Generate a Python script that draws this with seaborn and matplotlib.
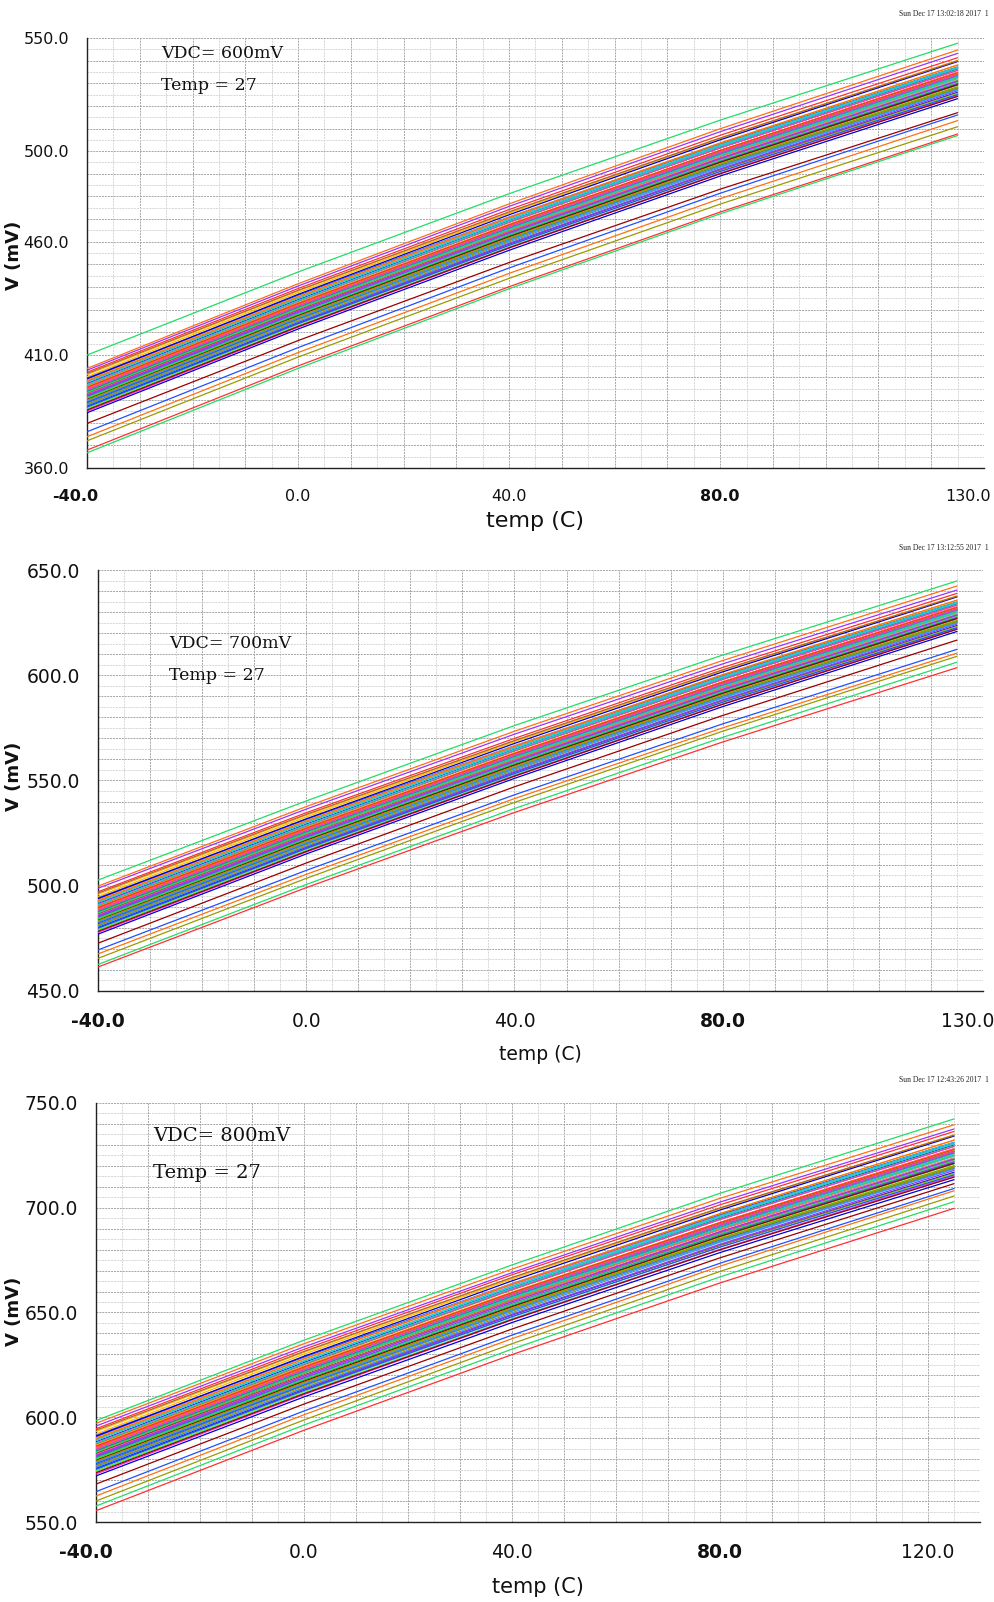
import numpy as np
import pandas as pd
import matplotlib
matplotlib.use("Agg")
import matplotlib.pyplot as plt
import matplotlib.transforms as mtransforms
import seaborn as sns
from matplotlib.ticker import FixedLocator, MultipleLocator

# Sample temperatures (C) at which every Monte Carlo run is tabulated
temps = [-40.0, 0.0, 40.0, 80.0, 125.0]

# ---- VDC = 600 mV : output voltage (mV) per run ----
v600_m40 = [409.9, 395.2, 388.6, 404.0, 403.2, 399.1, 392.4, 386.0, 379.7, 397.3,
            393.8, 390.1, 401.2, 394.6, 389.4, 396.5, 366.7, 367.9, 376.0, 373.8,
            391.7, 385.1, 372.0, 398.2, 393.1, 387.3, 395.9, 392.0, 400.3, 390.8,
            394.1, 388.0, 396.9, 391.2, 399.7, 393.5, 386.8, 395.5, 389.9, 397.8,
            392.8, 384.4, 394.9, 390.5, 398.8, 391.5, 387.7, 396.2, 393.3, 402.3,
            389.1, 395.0, 391.9, 397.0, 388.3, 394.3, 390.3, 399.4, 392.6, 386.4,
            396.0, 393.9, 389.6, 401.7, 391.0, 395.7, 387.0, 398.5, 392.2, 394.5,
            390.0, 396.7, 385.6]
v600_p0 = [446.6, 432.1, 425.7, 441.4, 440.4, 435.9, 429.6, 422.8, 416.3, 434.3,
           430.5, 427.1, 438.2, 431.7, 426.2, 433.6, 404.0, 405.1, 413.2, 411.0,
           428.4, 422.2, 409.0, 435.1, 430.4, 424.2, 432.6, 429.0, 437.5, 427.7,
           431.1, 424.7, 433.9, 428.4, 436.3, 430.4, 424.0, 432.5, 426.7, 434.9,
           429.6, 421.4, 432.1, 427.2, 435.8, 428.4, 424.8, 432.9, 430.4, 439.3,
           426.0, 432.2, 428.7, 433.9, 425.4, 431.0, 427.3, 436.7, 429.4, 423.4,
           432.9, 431.1, 426.3, 438.5, 428.1, 432.7, 423.8, 435.6, 429.2, 431.5,
           426.9, 433.9, 422.5]
v600_p40 = [481.2, 466.9, 460.7, 476.7, 475.6, 470.5, 464.7, 457.6, 450.8, 469.2,
            465.0, 462.0, 473.0, 466.8, 460.9, 468.5, 439.2, 440.1, 448.4, 446.0,
            463.1, 457.2, 443.8, 469.8, 465.5, 459.0, 467.2, 464.0, 472.6, 462.5,
            466.0, 459.3, 468.7, 463.4, 470.9, 465.2, 459.1, 467.4, 461.4, 469.9,
            464.2, 456.2, 467.3, 461.9, 470.8, 463.1, 459.9, 467.5, 465.3, 474.2,
            460.8, 467.3, 463.4, 468.7, 460.4, 465.6, 462.2, 471.9, 464.2, 458.3,
            467.7, 466.1, 460.8, 473.2, 463.1, 467.5, 458.4, 470.7, 464.0, 466.5,
            461.6, 469.1, 457.3]
v600_p80 = [513.7, 499.6, 493.6, 509.9, 508.6, 503.1, 497.8, 490.2, 483.2, 502.1,
            497.5, 494.8, 505.8, 499.7, 493.4, 501.4, 472.3, 473.1, 481.4, 479.0,
            495.6, 490.2, 476.6, 502.5, 498.6, 491.8, 499.7, 496.8, 505.6, 495.1,
            498.8, 491.8, 501.5, 496.4, 503.3, 497.9, 492.2, 500.3, 494.0, 502.8,
            496.8, 489.0, 500.3, 494.4, 503.6, 495.8, 492.8, 500.0, 498.2, 507.0,
            493.5, 500.3, 495.9, 501.5, 493.4, 498.1, 495.1, 505.0, 496.8, 491.1,
            500.3, 499.1, 493.3, 505.8, 496.0, 500.3, 491.0, 503.6, 496.8, 499.3,
            494.3, 502.1, 490.0]
v600_p125 = [547.7, 533.8, 528.0, 544.7, 543.2, 537.1, 532.3, 524.3, 517.0, 536.4,
             531.4, 529.1, 540.0, 534.2, 527.5, 535.8, 506.9, 507.6, 516.0, 513.5,
             529.6, 524.6, 510.8, 536.6, 533.2, 526.0, 533.7, 531.2, 540.1, 529.3,
             533.1, 525.7, 535.8, 530.9, 537.2, 532.1, 526.7, 534.6, 528.1, 537.2,
             530.8, 523.2, 534.9, 528.4, 538.0, 529.9, 527.3, 533.9, 532.6, 541.3,
             527.7, 534.8, 530.0, 535.7, 527.8, 532.1, 529.4, 539.6, 530.9, 525.4,
             534.5, 533.6, 527.2, 539.9, 530.4, 534.6, 525.0, 538.1, 531.0, 533.7,
             528.4, 536.7, 524.2]

# ---- VDC = 700 mV ----
v700_m40 = [502.7, 489.1, 481.7, 499.8, 498.8, 493.5, 486.0, 478.8, 472.7, 491.5,
            487.6, 483.4, 495.9, 488.5, 482.6, 490.6, 462.6, 461.4, 469.5, 467.6,
            485.2, 477.8, 465.5, 492.5, 486.8, 480.2, 489.9, 485.5, 494.9, 484.2,
            487.9, 481.0, 491.1, 484.6, 494.2, 487.2, 479.7, 489.5, 483.2, 492.1,
            486.4, 477.0, 488.8, 483.8, 493.2, 485.0, 480.7, 490.3, 487.0, 497.1,
            482.3, 488.9, 485.4, 491.2, 481.4, 488.1, 483.6, 493.9, 486.2, 479.2,
            490.0, 487.7, 482.8, 496.5, 484.4, 489.7, 479.9, 492.9, 485.8, 488.4,
            483.3, 490.8, 478.3]
v700_p0 = [540.3, 526.8, 519.8, 537.6, 536.4, 530.9, 524.1, 516.7, 510.8, 529.2,
           525.1, 521.3, 533.5, 526.4, 520.3, 528.4, 500.6, 499.1, 507.3, 505.4,
           522.8, 516.0, 503.5, 530.1, 524.9, 518.2, 527.4, 523.4, 532.7, 522.0,
           525.7, 518.7, 528.8, 522.7, 531.5, 524.9, 518.0, 527.3, 520.9, 529.9,
           524.0, 515.1, 526.8, 521.5, 530.9, 522.7, 518.9, 527.7, 524.9, 534.7,
           520.2, 526.9, 523.1, 528.8, 519.5, 525.6, 521.6, 531.8, 523.9, 517.3,
           527.6, 525.7, 520.4, 533.9, 522.4, 527.4, 517.7, 530.7, 523.6, 526.2,
           521.1, 528.8, 516.3]
v700_p40 = [576.1, 562.3, 555.7, 573.4, 572.0, 566.1, 560.0, 552.5, 547.0, 564.7,
            560.3, 557.1, 568.8, 562.2, 555.9, 564.0, 536.7, 534.8, 543.2, 541.4,
            558.3, 552.0, 539.6, 565.4, 560.8, 553.9, 562.6, 559.2, 568.4, 557.6,
            561.4, 554.3, 564.2, 558.6, 566.5, 560.5, 554.0, 562.8, 556.5, 565.5,
            559.4, 551.0, 562.7, 557.0, 566.4, 558.3, 554.9, 562.9, 560.6, 570.0,
            555.8, 562.7, 558.6, 564.2, 555.4, 560.9, 557.3, 567.6, 559.4, 553.2,
            563.2, 561.5, 555.8, 569.0, 558.3, 562.9, 553.3, 566.3, 559.2, 561.9,
            556.7, 564.6, 552.1]
v700_p80 = [609.6, 596.1, 589.9, 607.0, 605.4, 599.7, 594.2, 586.4, 580.9, 598.6,
            593.9, 591.1, 602.5, 596.2, 589.7, 598.0, 570.5, 568.3, 576.9, 575.0,
            592.0, 586.3, 573.4, 599.1, 595.0, 588.0, 596.2, 593.2, 602.3, 591.5,
            595.3, 588.0, 598.1, 592.8, 600.0, 594.3, 588.4, 596.8, 590.3, 599.4,
            593.2, 585.1, 596.8, 590.7, 600.3, 592.1, 589.1, 596.5, 594.7, 603.7,
            589.8, 596.8, 592.3, 598.1, 589.6, 594.6, 591.4, 601.6, 593.2, 587.3,
            596.9, 595.6, 589.6, 602.6, 592.3, 596.8, 587.2, 600.3, 593.2, 595.8,
            590.6, 598.7, 586.2]
v700_p125 = [644.8, 631.4, 625.6, 642.4, 640.5, 634.7, 629.9, 621.9, 616.7, 634.0,
             629.0, 626.7, 637.6, 631.8, 625.1, 633.4, 606.2, 603.6, 612.3, 610.5,
             627.2, 622.2, 609.0, 634.2, 630.8, 623.6, 631.3, 628.8, 637.7, 626.9,
             630.7, 623.3, 633.4, 628.5, 634.8, 629.7, 624.3, 632.2, 625.7, 634.8,
             628.4, 620.8, 632.5, 626.0, 635.6, 627.5, 624.9, 631.5, 630.2, 638.9,
             625.3, 632.4, 627.6, 633.3, 625.4, 629.7, 627.0, 637.2, 628.5, 623.0,
             632.1, 631.2, 624.8, 637.5, 628.0, 632.2, 622.6, 635.7, 628.6, 631.3,
             626.0, 634.3, 621.8]

# ---- VDC = 800 mV ----
v800_m40 = [598.4, 585.6, 577.3, 597.1, 595.8, 590.5, 582.1, 574.0, 568.1, 588.2,
            583.8, 579.2, 593.2, 584.8, 578.3, 587.2, 557.6, 555.4, 564.5, 562.4,
            581.2, 572.9, 560.0, 589.4, 582.9, 575.6, 586.5, 581.6, 592.0, 580.0,
            584.2, 576.5, 587.7, 580.6, 591.3, 583.5, 575.0, 586.0, 578.9, 588.9,
            582.6, 572.0, 585.2, 579.7, 590.1, 580.9, 576.1, 586.9, 583.2, 594.5,
            577.9, 585.3, 581.4, 587.9, 576.9, 584.5, 579.4, 590.9, 582.3, 574.5,
            586.6, 584.0, 578.5, 593.8, 580.3, 586.2, 575.3, 589.8, 581.8, 584.7,
            579.0, 587.6, 573.5]
v800_p0 = [636.8, 623.3, 615.2, 635.1, 633.6, 628.0, 620.2, 611.6, 606.3, 626.1,
           621.2, 617.0, 631.0, 622.8, 615.8, 625.1, 596.3, 593.8, 603.0, 601.2,
           618.7, 610.8, 598.7, 627.0, 621.1, 613.3, 623.9, 619.5, 630.1, 617.7,
           622.0, 613.9, 625.5, 618.6, 628.7, 621.2, 613.1, 623.8, 616.5, 626.8,
           620.1, 609.7, 623.3, 617.2, 628.0, 618.5, 614.1, 624.3, 621.1, 632.4,
           615.6, 623.4, 618.9, 625.6, 614.8, 621.9, 617.2, 629.1, 619.9, 612.3,
           624.3, 622.0, 615.9, 631.4, 618.2, 624.0, 612.8, 627.8, 619.6, 622.6,
           616.6, 625.7, 611.2]
v800_p40 = [672.7, 658.8, 650.9, 670.7, 669.0, 663.3, 656.0, 647.0, 642.1, 661.7,
            656.4, 652.6, 666.5, 658.7, 651.2, 660.8, 632.5, 629.9, 639.2, 637.5,
            654.0, 646.5, 635.1, 662.4, 657.0, 648.8, 659.2, 655.1, 666.0, 653.2,
            657.6, 649.2, 661.1, 654.3, 663.8, 656.6, 648.9, 659.4, 651.8, 662.6,
            655.4, 645.2, 659.3, 652.5, 663.7, 654.0, 649.9, 659.5, 656.8, 668.0,
            651.1, 659.3, 654.3, 661.1, 650.6, 657.1, 652.8, 665.1, 655.4, 647.9,
            659.8, 657.8, 651.1, 666.7, 654.0, 659.5, 648.0, 663.6, 655.1, 658.3,
            652.1, 661.6, 646.6]
v800_p80 = [706.9, 692.0, 684.5, 704.5, 702.7, 696.4, 689.7, 680.1, 676.1, 695.1,
            689.4, 686.0, 699.9, 692.2, 684.2, 694.4, 667.0, 664.1, 673.5, 672.1,
            687.0, 680.1, 669.6, 695.7, 690.8, 682.1, 692.2, 688.5, 699.6, 686.4,
            691.0, 682.1, 694.5, 688.0, 696.8, 689.9, 682.6, 692.9, 685.0, 696.1,
            688.5, 678.6, 692.9, 685.5, 697.2, 687.2, 683.5, 692.5, 690.3, 701.4,
            684.3, 692.9, 687.4, 694.4, 684.1, 690.2, 686.3, 698.9, 688.4, 681.3,
            693.0, 691.5, 684.1, 699.9, 687.5, 692.9, 681.2, 697.2, 688.5, 691.7,
            685.3, 695.3, 679.9]
v800_p125 = [742.4, 726.8, 719.5, 739.6, 737.6, 731.0, 724.9, 714.8, 711.5, 730.1,
             723.8, 720.9, 734.7, 727.3, 718.8, 729.4, 702.9, 699.7, 709.2, 708.1,
             721.5, 715.2, 705.6, 730.4, 726.1, 716.9, 726.7, 723.5, 734.8, 721.1,
             725.9, 716.5, 729.4, 723.1, 731.2, 724.7, 717.8, 727.8, 719.6, 731.2,
             723.0, 713.4, 728.2, 720.0, 732.2, 721.9, 718.6, 727.0, 725.3, 736.4,
             719.1, 728.1, 722.0, 729.2, 719.2, 724.7, 721.2, 734.2, 723.1, 716.2,
             727.7, 726.6, 718.5, 734.6, 722.5, 727.8, 715.7, 732.3, 723.3, 726.7,
             720.0, 730.5, 714.6]

# Axis tick labels per panel
y600_ticks = [550.0, 500.0, 460.0, 410.0, 360.0]
y700_ticks = [650.0, 600.0, 550.0, 500.0, 450.0]
y800_ticks = [750.0, 700.0, 650.0, 600.0, 550.0]
x_ticks_a = [-40.0, 0.0, 40.0, 80.0, 130.0]
x_ticks_b = [-40.0, 0.0, 40.0, 80.0, 120.0]

stamps = ["Sun Dec 17 13:02:18 2017  1",
          "Sun Dec 17 13:12:55 2017  1",
          "Sun Dec 17 12:43:26 2017  1"]

# Waveform colour cycle
wave_colors = ["#22dd66", "#ff3030", "#2050ff", "#ff7010", "#9933ff", "#ff33cc",
               "#9a9a00", "#22cccc", "#990000", "#0000dd", "#ff6699", "#66ee22",
               "#ffbb00", "#00a080", "#3399ff", "#aa6633"]

sns.set_theme(style="white")
plt.rcParams["font.family"] = ["DejaVu Sans"]

W, H = 995, 1602
fig = plt.figure(figsize=(W / 100, H / 100), dpi=100)
fig.patch.set_facecolor("white")


def runs_frame(*cols):
    n = len(cols[0])
    assert all(len(c) == n for c in cols)
    rows = []
    for i in range(n):
        for t, c in zip(temps, cols):
            rows.append({"temp": t, "V": c[i], "run": f"r{i:03d}"})
    return pd.DataFrame(rows)


def px_axes(left, right, top, bottom):
    return fig.add_axes([left / W, 1 - bottom / H, (right - left) / W, (bottom - top) / H])


def shift_label(lab, dx_px):
    off = mtransforms.ScaledTranslation(dx_px / 100, 0, fig.dpi_scale_trans)
    lab.set_transform(lab.get_transform() + off)


panels = [
    dict(data=(v600_m40, v600_p0, v600_p40, v600_p80, v600_p125), box=(87, 984, 38, 468),
         ylim=(360, 550), yt=y600_ticks, xt=x_ticks_a, vdc="VDC= 600mV",
         note_xy=(161, 53, 86), note_fs=12.5, tick_fs=11.5, xlab_y=521, xlab_fs=16,
         ylab_y=255, stamp_y=14, first_shift=-12, last_shift=-16),
    dict(data=(v700_m40, v700_p0, v700_p40, v700_p80, v700_p125), box=(98, 983, 570, 991),
         ylim=(450, 650), yt=y700_ticks, xt=x_ticks_a, vdc="VDC= 700mV",
         note_xy=(169, 643, 675), note_fs=12.5, tick_fs=13.5, xlab_y=1054, xlab_fs=13.5,
         ylab_y=776, stamp_y=548, first_shift=0, last_shift=-15),
    dict(data=(v800_m40, v800_p0, v800_p40, v800_p80, v800_p125), box=(96, 980, 1103, 1522),
         ylim=(550, 750), yt=y800_ticks, xt=x_ticks_b, vdc="VDC= 800mV",
         note_xy=(153, 1136, 1173), note_fs=14, tick_fs=13.5, xlab_y=1587, xlab_fs=15,
         ylab_y=1311, stamp_y=1080, first_shift=-10, last_shift=0),
]

for k, p in enumerate(panels):
    l, r, t, b = p["box"]
    ax = px_axes(l, r, t, b)
    ax.set_facecolor("white")
    df = runs_frame(*p["data"])
    n = df["run"].nunique()
    pal = [wave_colors[i % len(wave_colors)] for i in range(n)]
    sns.lineplot(data=df, x="temp", y="V", hue="run", palette=pal, estimator=None,
                 legend=False, linewidth=0.9, ax=ax, zorder=3)

    lo, hi = p["ylim"]
    ax.set_xlim(-40, 130)
    ax.set_ylim(lo, hi)

    # dotted grid: darker every 10 units, lighter at the 5-unit midpoints
    for xv in np.arange(-40, 131, 5):
        ax.axvline(xv, color="#a6a6a6" if xv % 10 == 0 else "#d6d6d6",
                   lw=0.7, ls=(0, (2, 1)), zorder=1)
    for yv in np.arange(lo, hi + 1, 5):
        ax.axhline(yv, color="#a6a6a6" if yv % 10 == 0 else "#d6d6d6",
                   lw=0.7, ls=(0, (2, 1)), zorder=1)

    for side in ("top", "right"):
        ax.spines[side].set_visible(False)
    for side in ("left", "bottom"):
        ax.spines[side].set_visible(True)
        ax.spines[side].set_color("#222222")
        ax.spines[side].set_linewidth(1.0)

    ax.yaxis.set_major_locator(FixedLocator(p["yt"]))
    ax.set_yticklabels([f"{v:.1f}" for v in p["yt"]])
    ax.yaxis.set_minor_locator(MultipleLocator(1))
    ax.xaxis.set_major_locator(FixedLocator(p["xt"]))
    ax.set_xticklabels([f"{v:.1f}" for v in p["xt"]])
    ax.xaxis.set_minor_locator(MultipleLocator(10 / 6))

    ax.tick_params(axis="y", which="major", direction="out", length=6, width=1,
                   color="#222222", pad=7, labelsize=p["tick_fs"], labelcolor="#111111")
    ax.tick_params(axis="y", which="minor", direction="out", length=2.5, width=0.6,
                   color="#444444")
    ax.tick_params(axis="x", which="major", direction="out", length=6, width=1,
                   color="#222222", pad=9, labelsize=p["tick_fs"], labelcolor="#111111")
    ax.tick_params(axis="x", which="minor", direction="out", length=4, width=0.6,
                   color="#444444")
    xlabs = ax.get_xticklabels()
    for lab in xlabs:
        if lab.get_text() in ("-40.0", "80.0"):
            lab.set_fontweight("bold")
    if p["first_shift"]:
        shift_label(xlabs[0], p["first_shift"])
    if p["last_shift"]:
        shift_label(xlabs[-1], p["last_shift"])
    ax.set_xlabel("")
    ax.set_ylabel("")
    ax.grid(False)

    # annotation block
    nx, ny1, ny2 = p["note_xy"]
    fig.text(nx / W, 1 - ny1 / H, p["vdc"], family="DejaVu Serif",
             fontsize=p["note_fs"], va="center", ha="left", color="#111111")
    fig.text(nx / W, 1 - ny2 / H, "Temp = 27", family="DejaVu Serif",
             fontsize=p["note_fs"], va="center", ha="left", color="#111111")

    # axis titles
    fig.text(((l + r) / 2) / W, 1 - p["xlab_y"] / H, "temp (C)", fontsize=p["xlab_fs"],
             ha="center", va="center", color="#111111")
    fig.text(14 / W, 1 - p["ylab_y"] / H, "V (mV)", fontsize=13, fontweight="bold",
             rotation=90, ha="center", va="center", color="#111111")

    fig.text(989 / W, 1 - p["stamp_y"] / H, stamps[k],
             family="Liberation Serif", fontsize=5.5, ha="right", va="center",
             color="#222222")

fig.savefig("out.png", dpi=100, facecolor="white")
